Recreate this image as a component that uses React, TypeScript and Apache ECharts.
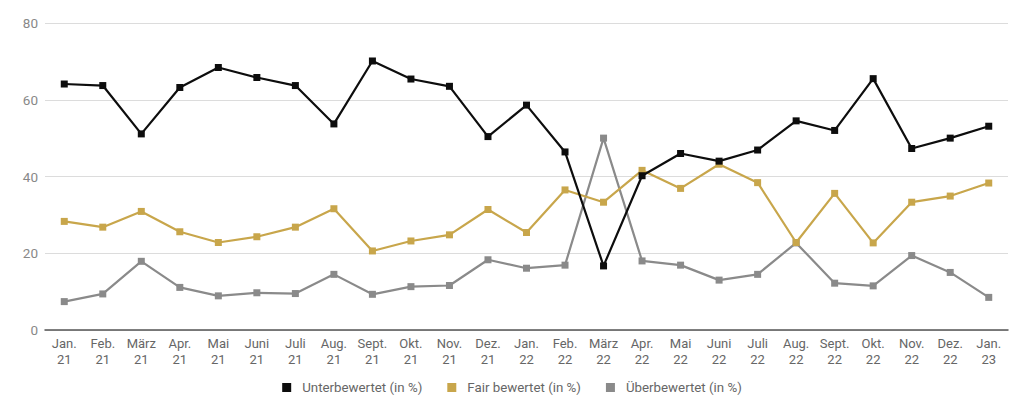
import React, { useEffect, useRef } from "react";
import * as echarts from "echarts";

const categories = [
  "Jan.\n21", "Feb.\n21", "März\n21", "Apr.\n21", "Mai\n21", "Juni\n21", "Juli\n21", "Aug.\n21",
  "Sept.\n21", "Okt.\n21", "Nov.\n21", "Dez.\n21", "Jan.\n22", "Feb.\n22", "März\n22", "Apr.\n22",
  "Mai\n22", "Juni\n22", "Juli\n22", "Aug.\n22", "Sept.\n22", "Okt.\n22", "Nov.\n22", "Dez.\n22", "Jan.\n23",
];

const unterbewertet = [
  64.1, 63.7, 51.1, 63.2, 68.4, 65.8, 63.7, 53.7, 70.1, 65.4, 63.5, 50.4,
  58.6, 46.4, 16.7, 40.2, 46.0, 44.0, 46.9, 54.5, 52.0, 65.5, 47.3, 50.0, 53.1,
];
const fairBewertet = [
  28.3, 26.8, 30.9, 25.6, 22.8, 24.3, 26.8, 31.6, 20.6, 23.2, 24.8, 31.4,
  25.4, 36.5, 33.3, 41.6, 36.9, 43.2, 38.4, 22.8, 35.6, 22.7, 33.3, 34.9, 38.3,
];
const ueberbewertet = [
  7.4, 9.4, 17.9, 11.1, 8.9, 9.7, 9.5, 14.5, 9.3, 11.3, 11.6, 18.3,
  16.1, 16.9, 50.0, 18.0, 16.9, 13.0, 14.5, 22.7, 12.2, 11.5, 19.4, 15.0, 8.5,
];

const seriesNames = ["Unterbewertet (in %)", "Fair bewertet (in %)", "Überbewertet (in %)"];
const colors = ["#0d0d0d", "#c8a64b", "#8a8a8a"];

export default function App() {
  const ref = useRef<HTMLDivElement>(null);
  useEffect(() => {
    if (!ref.current) return;
    const chart = echarts.init(ref.current, undefined, { renderer: "svg" });
    const values = [unterbewertet, fairBewertet, ueberbewertet];
    chart.setOption({
      animation: false,
      textStyle: { fontFamily: "Roboto" },
      grid: { left: 45, right: 16, top: 23, bottom: 79 },
      legend: {
        top: 376,
        left: "center",
        icon: "rect",
        itemWidth: 9,
        itemHeight: 9,
        itemGap: 25,
        textStyle: { color: "#666", fontSize: 13.3, fontFamily: "Roboto", padding: [0, 0, 0, 6] },
        data: seriesNames,
      },
      xAxis: {
        type: "category",
        data: categories,
        boundaryGap: true,
        axisLine: { lineStyle: { color: "#555", width: 1.5 } },
        axisTick: { show: false },
        axisLabel: { color: "#666", fontSize: 13, lineHeight: 15.6, margin: 6, interval: 0 },
      },
      yAxis: {
        type: "value",
        min: 0,
        max: 80,
        interval: 20,
        axisLine: { show: false },
        axisTick: { show: false },
        axisLabel: { color: "#888", fontSize: 13.5, margin: 7 },
        splitLine: { lineStyle: { color: "#dcdcdc", width: 1 } },
      },
      series: seriesNames.map((name, i) => ({
        name,
        type: "line",
        data: values[i],
        symbol: "rect",
        symbolSize: 7,
        itemStyle: { color: colors[i] },
        lineStyle: { color: colors[i], width: 2.2 },
        z: 3 - i,
      })),
    });
    return () => chart.dispose();
  }, []);
  return (
    <div
      ref={ref}
      style={{ position: "absolute", left: 0, top: 0, width: 1024, height: 409 }}
    />
  );
}
